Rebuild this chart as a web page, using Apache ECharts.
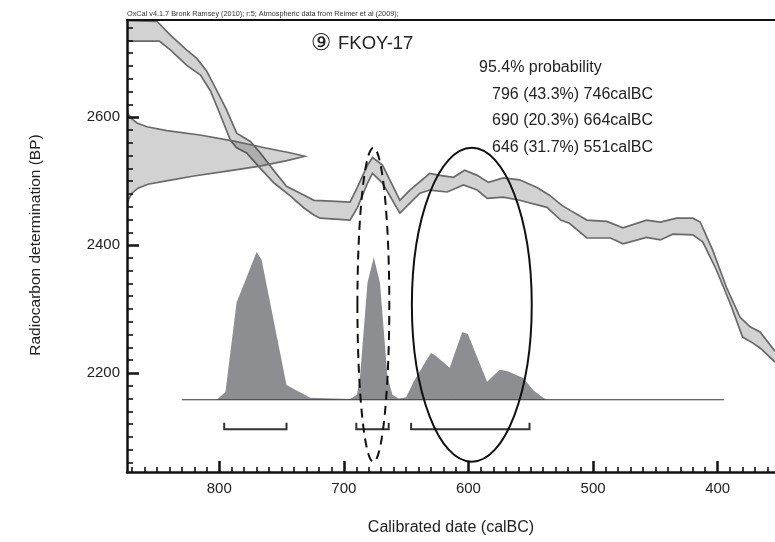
<!DOCTYPE html>
<html><head><meta charset="utf-8">
<script src="https://cdn.jsdelivr.net/npm/echarts@6/dist/echarts.min.js"></script>
<style>html,body{margin:0;padding:0;background:#fff}#c{width:775px;height:542px}</style>
</head><body><div id="c"></div>
<script>
// ---- data (calBC, BP) ----
const curveUpper = [[874,2751],[850,2750],[839,2728],[826,2705],[818,2692],[810,2672],[802,2642],[794,2611],[786,2575],[775,2562],[767,2544],[756,2516],[746,2492],[735,2481],[724,2470],[714,2469],[695,2467],[689,2491],[681,2525],[677,2537],[669,2525],[655,2470],[647,2486],[631,2512],[623,2509],[612,2506],[603,2517],[593,2509],[584,2498],[572,2505],[559,2502],[545,2490],[535,2478],[525,2462],[519,2455],[505,2439],[489,2437],[476,2427],[457,2439],[446,2436],[433,2442],[420,2442],[414,2436],[404,2392],[393,2334],[382,2287],[374,2272],[366,2264],[354,2234]];
const curveLower = [[874,2719],[848,2719],[839,2705],[826,2681],[815,2666],[807,2641],[799,2603],[791,2564],[786,2552],[778,2544],[767,2520],[756,2497],[743,2477],[732,2458],[724,2447],[719,2442],[695,2439],[689,2459],[681,2497],[677,2512],[669,2497],[655,2450],[639,2481],[631,2486],[617,2483],[604,2494],[593,2486],[585,2473],[572,2475],[559,2470],[537,2459],[526,2439],[519,2434],[505,2411],[486,2411],[476,2402],[457,2412],[446,2408],[436,2417],[420,2416],[412,2405],[401,2361],[390,2309],[380,2256],[372,2247],[366,2239],[354,2217]];
const rcDensity = [[874,2614],[873,2605],[870.5,2598],[866,2591],[858,2585],[842,2579],[815.5,2572],[788.2,2562.5],[761.7,2551.5],[743.3,2544.5],[731.2,2539],[735.3,2537],[745.7,2532],[767.3,2523.4],[793.8,2515.6],[820.3,2508],[843.5,2500],[857.2,2495],[865.2,2489],[870,2481],[872.6,2472],[873.6,2464],[874,2456]];
const probDensity = [[802,2158],[795,2170],[786,2311],[783,2325],[770,2389],[766,2377],[746,2181],[727,2161],[695,2159],[689.5,2166],[687,2194],[681,2341],[676,2381],[671,2341],[665,2194],[661,2166],[656,2160],[650,2162],[644,2186],[633,2222],[630,2231],[627,2228],[615,2208],[605,2264],[600.5,2261],[585,2186],[575,2205],[569,2203],[556,2192],[548,2173],[540,2161],[537,2158]];
const probBaseline = [[830,2158],[395,2158]];
const rangeFrom = [796, 690, 646];
const rangeTo = [746, 664, 551];
const rangePct = ['43.3', '20.3', '31.7'];
const bracketLevel = 2112, bracketTick = 10;
// ellipses: [centre calBC, centre BP, half-width (yr), half-height (BP), dashed]
const ellipses = [[597.3, 2306.5, 48.1, 245.5, 0], [676.3, 2306.5, 12.8, 245.5, 1]];
const xMajor = [400, 500, 600, 700, 800];
const yMajor = [2200, 2400, 2600];
const xMinor = []; for (let v = 360; v <= 870; v += 10) if (v % 100) xMinor.push(v);
const yMinor = []; for (let v = 2060; v <= 2740; v += 20) if (v % 200) yMinor.push(v);
const X_MIN = 354, X_MAX = 874, Y_MIN = 2045, Y_MAX = 2752;

const FONT = '"Liberation Sans", Arial, Helvetica, sans-serif';
const INK = '#222';
const SHADE = 'rgba(30,30,34,0.2)';
const chart = echarts.init(document.getElementById('c'));

function polyItem(arr, style) {
  return function (params, api) {
    return { type: 'polygon', shape: { points: arr.map(p => api.coord(p)) }, style: style };
  };
}

const option = {
  animation: false,
  backgroundColor: '#fff',
  grid: [
    { left: 127, right: 0, top: 20, bottom: 70 },
    { left: 127, right: 0, top: 20, bottom: 70 }
  ],
  xAxis: [
    { gridIndex: 0, type: 'value', inverse: true, min: X_MIN, max: X_MAX, position: 'bottom', z: 10,
      axisLine: { show: true, onZero: false, lineStyle: { color: '#111', width: 2.5 } },
      axisTick: { show: true, inside: true, length: 11, customValues: xMajor, lineStyle: { color: '#111', width: 2.5 } },
      axisLabel: { show: true, customValues: xMajor, margin: 9, fontSize: 15, color: INK, fontFamily: FONT, formatter: v => String(v) },
      splitLine: { show: false } },
    { gridIndex: 0, type: 'value', inverse: true, min: X_MIN, max: X_MAX, position: 'top', z: 10,
      axisLine: { show: true, onZero: false, lineStyle: { color: '#111', width: 2 } },
      axisTick: { show: false }, axisLabel: { show: false }, splitLine: { show: false } },
    { gridIndex: 1, type: 'value', inverse: true, min: X_MIN, max: X_MAX, position: 'bottom', z: 10,
      axisLine: { show: false, onZero: false },
      axisTick: { show: true, inside: true, length: 5, customValues: xMinor, lineStyle: { color: '#111', width: 1.6 } },
      axisLabel: { show: false }, splitLine: { show: false } }
  ],
  yAxis: [
    { gridIndex: 0, type: 'value', min: Y_MIN, max: Y_MAX, position: 'left', z: 10,
      axisLine: { show: true, onZero: false, lineStyle: { color: '#111', width: 2.5 } },
      axisTick: { show: true, inside: true, length: 12, customValues: yMajor, lineStyle: { color: '#111', width: 2.5 } },
      axisLabel: { show: true, customValues: yMajor, margin: 7, fontSize: 15, color: INK, fontFamily: FONT, formatter: v => String(v) },
      splitLine: { show: false } },
    { gridIndex: 1, type: 'value', min: Y_MIN, max: Y_MAX, position: 'left', z: 10,
      axisLine: { show: false, onZero: false },
      axisTick: { show: true, inside: true, length: 6, customValues: yMinor, lineStyle: { color: '#111', width: 1.6 } },
      axisLabel: { show: false }, splitLine: { show: false } }
  ],
  series: [
    { type: 'custom', xAxisIndex: 0, yAxisIndex: 0, clip: true, z: 1, data: [[600, 2400]],
      renderItem: polyItem(probDensity, { fill: '#8d8e92', stroke: null }) },
    { type: 'line', xAxisIndex: 0, yAxisIndex: 0, z: 2, data: probBaseline, symbol: 'none',
      lineStyle: { color: '#333', width: 1 } },
    { type: 'custom', xAxisIndex: 0, yAxisIndex: 0, clip: true, z: 3, data: [[600, 2400]],
      renderItem: function (params, api) {
        const up = curveUpper.map(p => api.coord(p));
        const lo = curveLower.map(p => api.coord(p));
        return { type: 'group', children: [
          { type: 'polygon', shape: { points: up.concat(lo.slice().reverse()) }, style: { fill: SHADE, stroke: null } },
          { type: 'polyline', shape: { points: up }, style: { fill: null, stroke: '#69696c', lineWidth: 1.7 } },
          { type: 'polyline', shape: { points: lo }, style: { fill: null, stroke: '#69696c', lineWidth: 1.7 } }
        ] };
      } },
    { type: 'custom', xAxisIndex: 0, yAxisIndex: 0, clip: true, z: 4, data: [[600, 2400]],
      renderItem: polyItem(rcDensity, { fill: SHADE, stroke: '#69696c', lineWidth: 1.6 }) },
    { type: 'custom', xAxisIndex: 0, yAxisIndex: 0, clip: false, z: 5,
      data: rangeFrom.map((f, i) => [f, rangeTo[i]]),
      renderItem: function (params, api) {
        const f = api.value(0), t = api.value(1);
        const pts = [api.coord([f, bracketLevel + bracketTick]), api.coord([f, bracketLevel]),
                     api.coord([t, bracketLevel]), api.coord([t, bracketLevel + bracketTick])];
        return { type: 'polyline', shape: { points: pts }, style: { fill: null, stroke: '#333', lineWidth: 2 } };
      } },
    { type: 'custom', xAxisIndex: 0, yAxisIndex: 0, clip: false, z: 6, data: ellipses,
      renderItem: function (params, api) {
        const c = api.coord([api.value(0), api.value(1)]);
        const sz = api.size([api.value(2), api.value(3)]);
        const dashed = api.value(4) === 1;
        return { type: 'ellipse', shape: { cx: c[0], cy: c[1], rx: sz[0], ry: sz[1] },
                 style: { fill: null, stroke: '#111', lineWidth: 2, lineDash: dashed ? [9, 6] : null } };
      } }
  ],
  graphic: [
    { type: 'text', x: 127, y: 14, style: { text: 'OxCal v4.1.7 Bronk Ramsey (2010); r:5; Atmospheric data from Reimer et al (2009);', font: '7.3px ' + FONT, fill: '#333', align: 'left', verticalAlign: 'middle' } },
    { type: 'text', x: 321, y: 44, style: { text: '⑨', font: '23px "DejaVu Sans", "Noto Sans CJK JP", sans-serif', fill: INK, align: 'center', verticalAlign: 'middle' } },
    { type: 'text', x: 338, y: 44, style: { text: 'FKOY-17', font: '18.5px ' + FONT, fill: INK, align: 'left', verticalAlign: 'middle' } },
    { type: 'text', x: 479, y: 68, style: { text: '95.4% probability', font: '16px ' + FONT, fill: INK, align: 'left', verticalAlign: 'middle' } },
    ...rangeFrom.map((f, i) => ({ type: 'text', x: 492, y: 94.5 + i * 26.3,
      style: { text: f + ' (' + rangePct[i] + '%) ' + rangeTo[i] + 'calBC', font: '16px ' + FONT, fill: INK, align: 'left', verticalAlign: 'middle' } })),
    { type: 'text', x: 451, y: 528, style: { text: 'Calibrated date (calBC)', font: '16px ' + FONT, fill: INK, align: 'center', verticalAlign: 'middle' } },
    { type: 'text', x: 36, y: 245, rotation: Math.PI / 2, style: { text: 'Radiocarbon determination (BP)', font: '15.5px ' + FONT, fill: INK, align: 'center', verticalAlign: 'middle' } }
  ]
};
chart.setOption(option);
</script>
</body></html>
